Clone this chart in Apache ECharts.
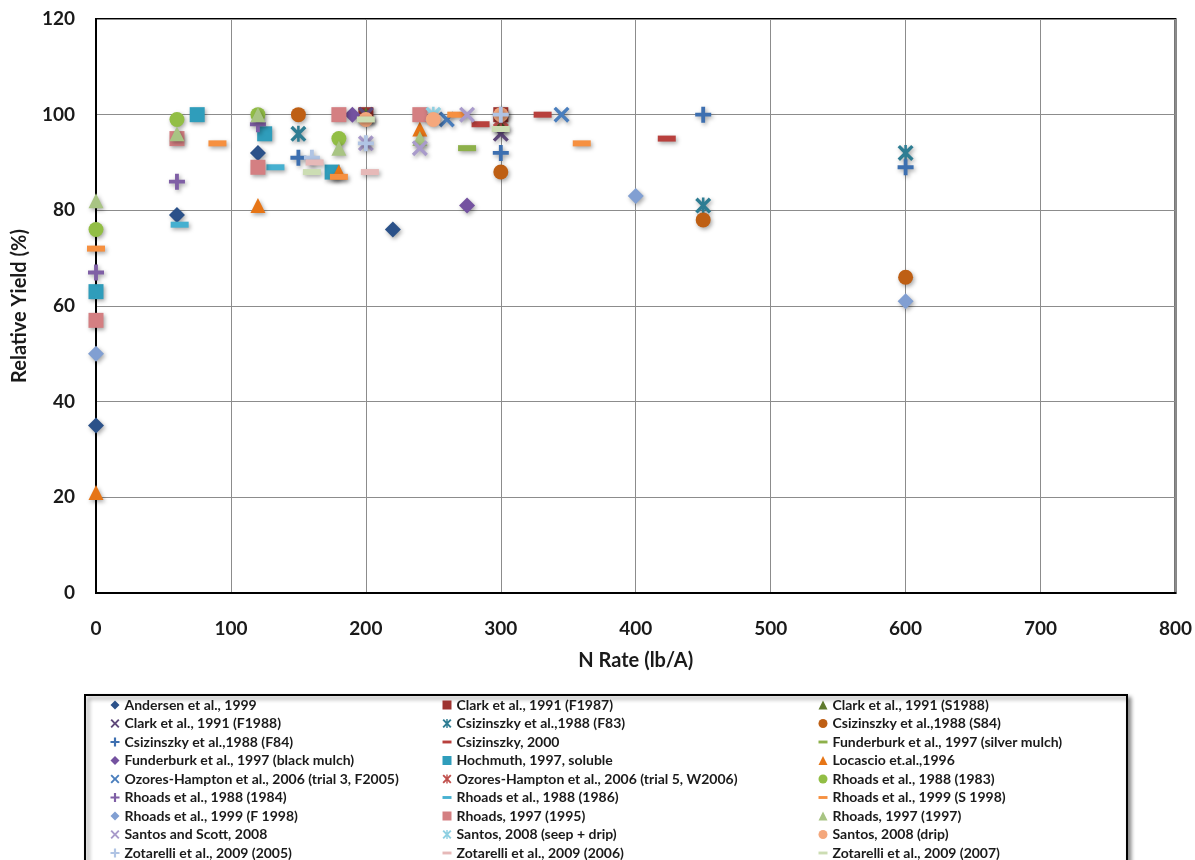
<!DOCTYPE html>
<html>
<head>
<meta charset="utf-8">
<script src="https://cdn.jsdelivr.net/npm/echarts@6/dist/echarts.min.js"></script>
<style>
  html, body { margin: 0; padding: 0; background: #fff; }
  #chart { width: 1195px; height: 860px; }
</style>
</head>
<body>
<div id="chart"></div>
<script>
// N rate (lb/A) vs relative yield (%) for each study
const andersen      = [[0, 35], [60, 79], [120, 92], [220, 76]];
const clarkF1987    = [[200, 100], [300, 100]];
const clarkS1988    = [[200, 100], [300, 98]];
const clarkF1988    = [[200, 100], [300, 96]];
const csizF83       = [[150, 96], [450, 81], [600, 92]];
const csizS84       = [[150, 100], [300, 88], [450, 78], [600, 66]];
const csizF84       = [[150, 91], [300, 92], [450, 100], [600, 89]];
const csiz2000      = [[285, 98], [331, 100], [423, 95]];
const funderSilver  = [[275, 93]];
const funderBlack   = [[190, 100], [275, 81]];
const hochmuth      = [[0, 63], [75, 100], [125, 96], [175, 88]];
const locascio      = [[0, 21], [120, 81], [180, 88], [240, 97]];
const ozoresF2005   = [[260, 99], [345, 100]];
const ozoresW2006   = [[300, 99]];
const rhoads1983    = [[0, 76], [60, 99], [120, 100], [180, 95]];
const rhoads1984    = [[0, 67], [60, 86], [120, 98]];
const rhoads1986    = [[62, 77], [133, 89]];
const rhoadsS1998   = [[0, 72], [90, 94], [180, 87], [267, 100], [360, 94]];
const rhoadsF1998   = [[0, 50], [400, 83], [600, 61]];
const rhoads1995    = [[0, 57], [60, 95], [120, 89], [180, 100], [240, 100]];
const rhoads1997    = [[0, 82], [60, 96], [120, 100], [180, 93], [240, 95]];
const santosScott   = [[200, 94], [240, 93], [275, 100]];
const santosSeep    = [[250, 100]];
const santosDrip    = [[200, 99], [250, 99], [300, 100]];
const zotarelli2005 = [[160, 91], [200, 94], [300, 100]];
const zotarelli2006 = [[162, 90], [203, 88]];
const zotarelli2007 = [[160, 88], [200, 99], [300, 97]];

const xTicks = [0, 100, 200, 300, 400, 500, 600, 700, 800];
const yTicks = [0, 20, 40, 60, 80, 100, 120];

// marker glyphs
const PLUS  = 'path://M3.8,0H6.2V3.8H10V6.2H6.2V10H3.8V6.2H0V3.8H3.8Z';
const CROSS = 'path://M0,1.5L1.5,0L5,3.5L8.5,0L10,1.5L6.5,5L10,8.5L8.5,10L5,6.5L1.5,10L0,8.5L3.5,5Z';
const STAR  = CROSS + 'M4.2,0H5.8V10H4.2Z';
const DASH_ICON = 'path://M0,0H10V3.2H0Z';

const shapes = {
  diamond:  { symbol: 'diamond',  size: 16, icon: 'diamond' },
  square:   { symbol: 'rect',     size: 15, icon: 'rect' },
  triangle: { symbol: 'triangle', size: 15, icon: 'triangle' },
  circle:   { symbol: 'circle',   size: 15, icon: 'circle' },
  cross:    { symbol: CROSS,      size: 16, icon: CROSS },
  star:     { symbol: STAR,       size: 16, icon: STAR },
  plus:     { symbol: PLUS,       size: 16, icon: PLUS },
  dash:     { symbol: 'rect',     size: [18, 6], icon: DASH_ICON }
};

const studies = [
  ['Andersen et al., 1999',                          andersen,      'diamond',  '#2B5189'],
  ['Clark et al., 1991 (F1987)',                     clarkF1987,    'square',   '#9E3330'],
  ['Clark et al., 1991 (S1988)',                     clarkS1988,    'triangle', '#5F7A2E'],
  ['Clark et al., 1991 (F1988)',                     clarkF1988,    'cross',    '#5F497A'],
  ['Csizinszky et al.,1988 (F83)',                   csizF83,       'star',     '#2E7D93'],
  ['Csizinszky et al.,1988 (S84)',                   csizS84,       'circle',   '#BE5F14'],
  ['Csizinszky et al.,1988 (F84)',                   csizF84,       'plus',     '#3D6FB0'],
  ['Csizinszky, 2000',                               csiz2000,      'dash',     '#B8403D'],
  ['Funderburk et al., 1997 (silver mulch)',         funderSilver,  'dash',     '#8DB04A'],
  ['Funderburk et al., 1997 (black mulch)',          funderBlack,   'diamond',  '#7452A0'],
  ['Hochmuth, 1997, soluble',                        hochmuth,      'square',   '#2F9DBB'],
  ['Locascio et.al.,1996',                           locascio,      'triangle', '#E67516'],
  ['Ozores-Hampton et al., 2006 (trial 3, F2005)',   ozoresF2005,   'cross',    '#4A7EBD'],
  ['Ozores-Hampton et al., 2006 (trial 5, W2006)',   ozoresW2006,   'star',     '#C0504D'],
  ['Rhoads et al., 1988 (1983)',                     rhoads1983,    'circle',   '#92BE45'],
  ['Rhoads et al., 1988 (1984)',                     rhoads1984,    'plus',     '#7F5FA5'],
  ['Rhoads et al., 1988 (1986)',                     rhoads1986,    'dash',     '#46B0D0'],
  ['Rhoads et al., 1999 (S 1998)',                   rhoadsS1998,   'dash',     '#F69040'],
  ['Rhoads et al., 1999 (F 1998)',                   rhoadsF1998,   'diamond',  '#819FD2'],
  ['Rhoads, 1997 (1995)',                            rhoads1995,    'square',   '#D47F82'],
  ['Rhoads, 1997 (1997)',                            rhoads1997,    'triangle', '#A8C483'],
  ['Santos and Scott, 2008',                         santosScott,   'cross',    '#A99BCB'],
  ['Santos, 2008 (seep + drip)',                     santosSeep,    'star',     '#8FD0E2'],
  ['Santos, 2008 (drip)',                            santosDrip,    'circle',   '#F4A77C'],
  ['Zotarelli et al., 2009 (2005)',                  zotarelli2005, 'plus',     '#B0C4E4'],
  ['Zotarelli et al., 2009 (2006)',                  zotarelli2006, 'dash',     '#E6B9B8'],
  ['Zotarelli et al., 2009 (2007)',                  zotarelli2007, 'dash',     '#CCDDB3']
];

const FONT = 'Lato, "Liberation Sans", sans-serif';

const series = studies.map(([name, data, shape, color]) => ({
  type: 'scatter',
  name: name,
  data: data,
  symbol: shapes[shape].symbol,
  symbolSize: shapes[shape].size,
  symbolKeepAspect: true,
  itemStyle: {
    color: color,
    opacity: 1,
    shadowBlur: 4,
    shadowOffsetX: 1.5,
    shadowOffsetY: 2,
    shadowColor: 'rgba(0,0,0,0.35)'
  },
  emphasis: { disabled: true }
}));

// three legend columns, filled row by row
const columnLeft = [110.5, 442.5, 818.5];
const legends = columnLeft.map((left, c) => ({
  orient: 'vertical',
  left: left,
  top: 698,
  height: 200,
  padding: 0,
  itemWidth: 9,
  itemHeight: 9,
  itemGap: 4.5,
  selectedMode: false,
  textStyle: {
    fontFamily: FONT,
    fontWeight: 'bold',
    fontSize: 14,
    lineHeight: 14,
    color: '#1a1a1a'
  },
  data: studies
    .filter((s, i) => i % 3 === c)
    .map(([name, , shape]) => ({ name: name, icon: shapes[shape].icon }))
}));

const chart = echarts.init(document.getElementById('chart'), null, { renderer: 'canvas' });
chart.setOption({
  animation: false,
  backgroundColor: '#ffffff',
  graphic: [{
    type: 'rect',
    z: 0,
    shape: { x: 85, y: 695, width: 1042, height: 200 },
    style: {
      fill: '#ffffff',
      stroke: '#000000',
      lineWidth: 2,
      shadowBlur: 4,
      shadowOffsetX: 3,
      shadowOffsetY: 3,
      shadowColor: 'rgba(0,0,0,0.45)'
    }
  }],
  grid: {
    left: 96, top: 19, right: 19, bottom: 267,
    show: true,
    borderColor: '#000000',
    borderWidth: 2
  },
  xAxis: {
    type: 'value',
    min: xTicks[0],
    max: xTicks[xTicks.length - 1],
    interval: 100,
    name: 'N Rate (lb/A)',
    nameLocation: 'middle',
    nameGap: 58,
    nameTextStyle: { fontFamily: FONT, fontWeight: 'bold', fontSize: 20, color: '#1a1a1a' },
    axisLine: { show: true, onZero: false, lineStyle: { color: '#000', width: 2 } },
    axisTick: { show: false },
    axisLabel: {
      margin: 26,
      fontFamily: FONT, fontWeight: 'bold', fontSize: 19, color: '#1a1a1a',
      formatter: v => xTicks.includes(v) ? String(v) : ''
    },
    splitLine: { show: true, lineStyle: { color: '#8c8c8c', width: 1 } }
  },
  yAxis: {
    type: 'value',
    min: yTicks[0],
    max: yTicks[yTicks.length - 1],
    interval: 20,
    name: 'Relative Yield (%)',
    nameLocation: 'middle',
    nameGap: 66,
    nameRotate: 90,
    nameTextStyle: { fontFamily: FONT, fontWeight: 'bold', fontSize: 20, color: '#1a1a1a' },
    axisLine: { show: true, onZero: false, lineStyle: { color: '#000', width: 2 } },
    axisTick: { show: false },
    axisLabel: {
      margin: 21,
      fontFamily: FONT, fontWeight: 'bold', fontSize: 19, color: '#1a1a1a',
      formatter: v => yTicks.includes(v) ? String(v) : ''
    },
    splitLine: { show: true, lineStyle: { color: '#8c8c8c', width: 1 } }
  },
  legend: legends,
  series: series
});
</script>
</body>
</html>
